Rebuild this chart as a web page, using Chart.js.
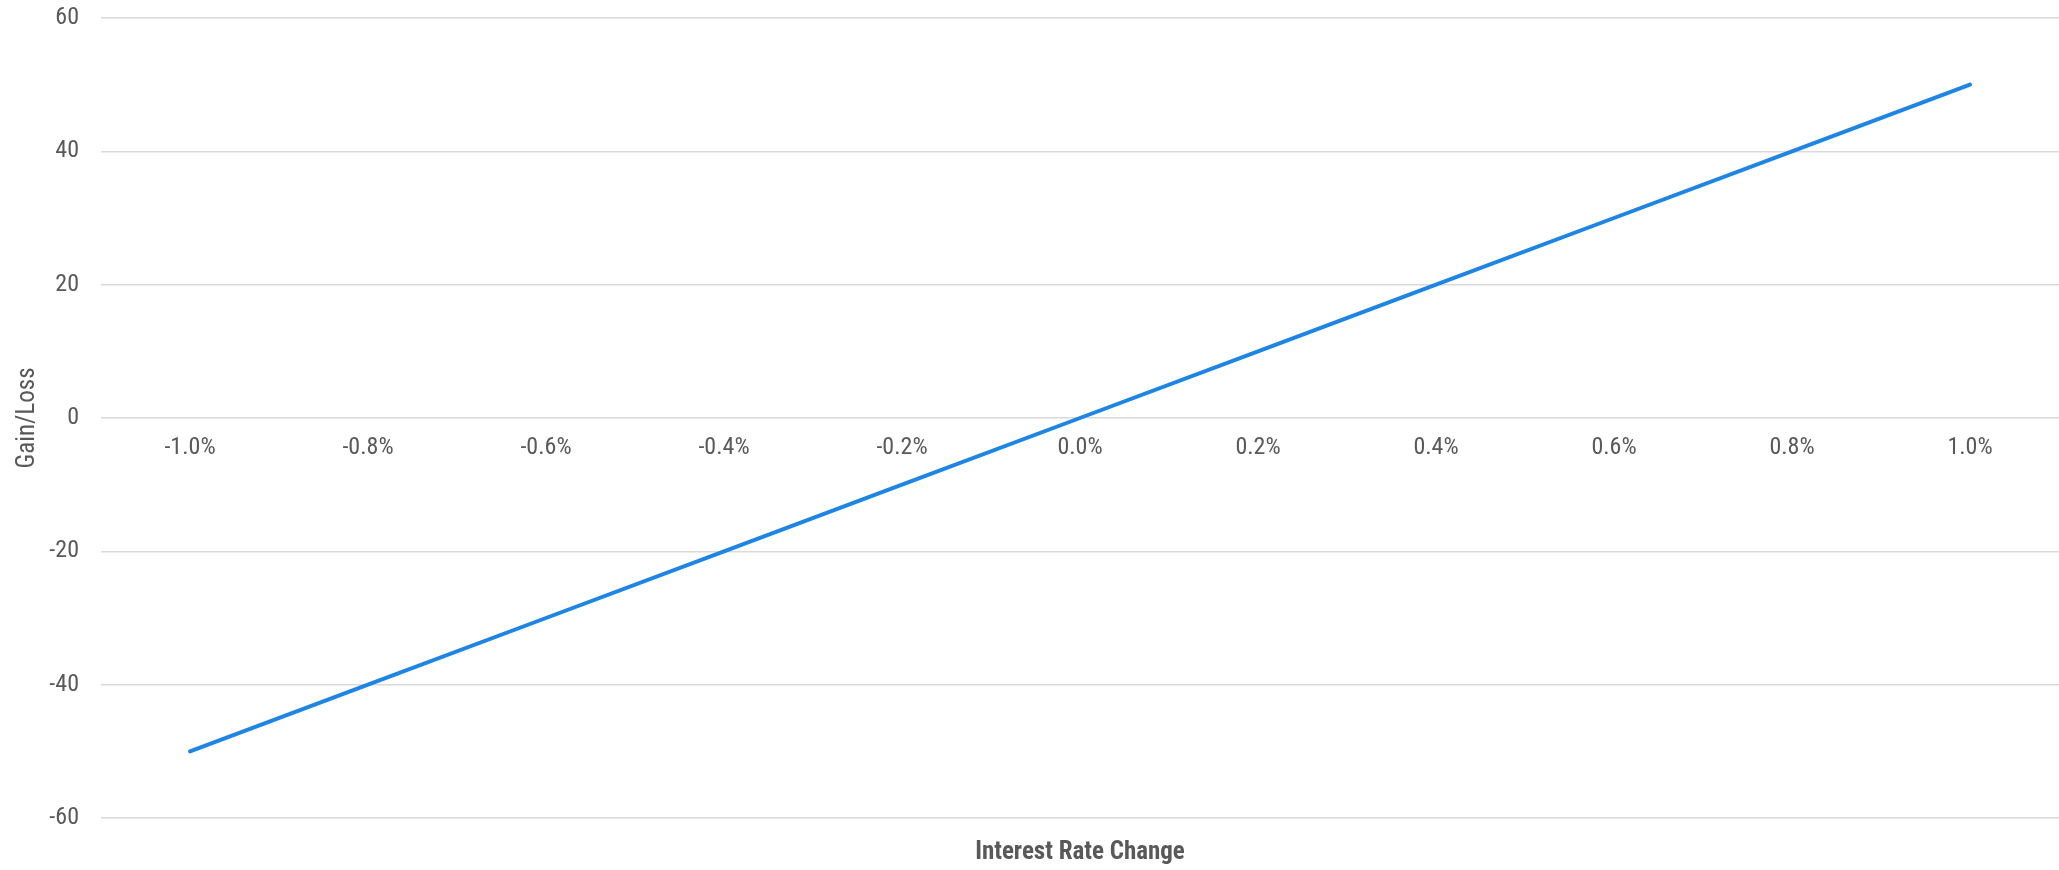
<!DOCTYPE html>
<html>
<head>
<meta charset="utf-8">
<title>Gain/Loss vs Interest Rate Change</title>
<script src="https://cdn.jsdelivr.net/npm/chart.js@4/dist/chart.umd.min.js"></script>
<style>
    html, body { margin: 0; padding: 0; background: #ffffff; }
    #wrap { width: 2059px; height: 870px; position: relative; }
</style>
</head>
<body>
<div id="wrap"><canvas id="rateChart"></canvas></div>
<script>
// rate shift scenarios and the resulting gain/loss
const rateLabels = ['-1.0%', '-0.8%', '-0.6%', '-0.4%', '-0.2%', '0.0%', '0.2%', '0.4%', '0.6%', '0.8%', '1.0%'];
const gainLoss = [-50, -40, -30, -20, -10, 0, 10, 20, 30, 40, 50];
const yTicks = [-60, -40, -20, 0, 20, 40, 60];

const textGray = '#595959';
const gridGray = '#d9d9d9';
const lineBlue = '#1e85e3';
const fontFamily = "'Roboto Condensed', 'Liberation Sans Narrow', 'Liberation Sans', Arial, sans-serif";

Chart.defaults.font.family = fontFamily;
Chart.defaults.color = textGray;

const ctx = document.getElementById('rateChart').getContext('2d');

new Chart(ctx, {
    type: 'line',
    data: {
        labels: rateLabels,
        datasets: [{
            label: 'Gain/Loss',
            data: gainLoss,
            borderColor: lineBlue,
            backgroundColor: lineBlue,
            borderWidth: 4,
            borderCapStyle: 'round',
            pointRadius: 0,
            tension: 0
        }]
    },
    options: {
        responsive: true,
        maintainAspectRatio: false,
        animation: false,
        layout: {
            padding: { top: 18, right: 0, left: 0, bottom: 0 }
        },
        scales: {
            x: {
                type: 'category',
                position: { y: 0 },
                offset: true,
                grid: { display: false, drawTicks: false },
                border: { display: false },
                ticks: {
                    color: textGray,
                    font: { size: 24 },
                    padding: 16,
                    maxRotation: 0,
                    autoSkip: false
                }
            },
            y: {
                min: -60,
                max: 60,
                afterBuildTicks: scale => {
                    scale.ticks = yTicks.map(v => ({ value: v }));
                },
                afterFit: scale => {
                    // fixed axis width; tick padding shouldn't push the plot down
                    scale.width = 101;
                    scale.paddingTop = 10;
                    scale.paddingBottom = 10;
                },
                grid: { color: gridGray, lineWidth: 1.5, drawTicks: false },
                border: { display: false },
                ticks: {
                    color: textGray,
                    font: { size: 24 },
                    padding: 22
                },
                title: {
                    display: true,
                    text: 'Gain/Loss',
                    color: textGray,
                    font: { size: 25 },
                    padding: { top: 13, bottom: 0 }
                }
            }
        },
        plugins: {
            legend: { display: false },
            tooltip: { enabled: false },
            title: {
                display: true,
                fullSize: false,
                position: 'bottom',
                text: 'Interest Rate Change',
                color: textGray,
                font: { size: 25, weight: 'bold' },
                padding: { top: 20, bottom: 2 }
            }
        }
    }
});
</script>
</body>
</html>
